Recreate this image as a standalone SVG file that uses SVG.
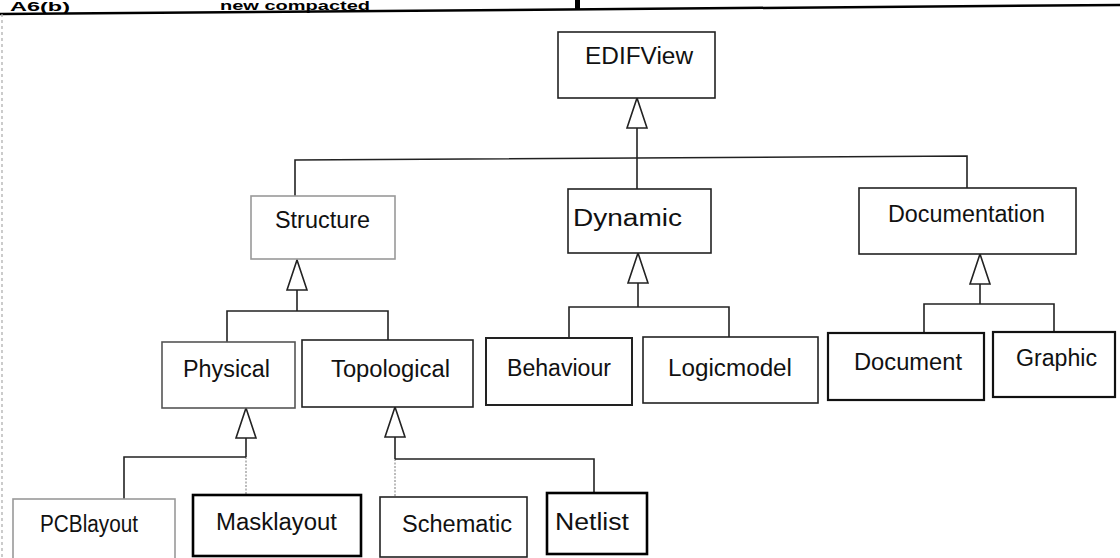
<svg xmlns="http://www.w3.org/2000/svg" width="1120" height="558" viewBox="0 0 1120 558">
<style>
.box{fill:#fff;stroke:#222;stroke-width:1.6}
.light{stroke:#999}
.mid{stroke:#555}
.heavy{stroke:#000;stroke-width:2.6}
.lbl{font-family:"Liberation Sans",Arial,sans-serif;font-size:23px;fill:#111}
.title{font-family:"Liberation Sans",Arial,sans-serif;font-size:13px;font-weight:bold;fill:#000}
.conn{fill:none;stroke:#222;stroke-width:1.6}
.faint{fill:none;stroke:#999;stroke-width:1.3;stroke-dasharray:2 1.5}
</style>
<defs>
<marker id="tri" markerUnits="userSpaceOnUse" markerWidth="32" markerHeight="22" viewBox="0 0 32 22" refX="31" refY="11" orient="auto">
<path d="M1,1 L31,11 L1,21 Z" fill="#fff" stroke="#222" stroke-width="1.6"/>
</marker>
</defs>
<g id="frame">
<text class="title" x="10" y="11" textLength="60" lengthAdjust="spacingAndGlyphs">A6(b)</text>
<text class="title" x="220" y="10" textLength="150" lengthAdjust="spacingAndGlyphs">new compacted</text>
<rect x="575" y="0" width="5" height="9" fill="#000"/>
<line x1="0" y1="14" x2="1120" y2="5" stroke="#000" stroke-width="2.5"/>
<line x1="2" y1="14" x2="2" y2="558" stroke="#aaa" stroke-width="1.2" stroke-dasharray="3 3"/>
</g>
<g id="connectors">
<path class="conn" d="M637,189 V98" marker-end="url(#tri)"/>
<path class="conn" d="M295,196 V160 L967,156 V188"/>
<path class="conn" d="M297,311 V260" marker-end="url(#tri)"/>
<path class="conn" d="M227,342 V311 H388 V340"/>
<path class="conn" d="M246,457 V408" marker-end="url(#tri)"/>
<path class="faint" d="M246,457 V495"/>
<path class="conn" d="M124,499 V457 H246"/>
<path class="conn" d="M395,459 V407" marker-end="url(#tri)"/>
<path class="faint" d="M395,459 V497"/>
<path class="conn" d="M395,459 H594 V493"/>
<path class="conn" d="M638,307 V253" marker-end="url(#tri)"/>
<path class="conn" d="M569,338 V307 H729 V337"/>
<path class="conn" d="M980,304 V254" marker-end="url(#tri)"/>
<path class="conn" d="M924,333 V304 H1054 V332"/>
</g>
<g id="EDIFView"><rect class="box" x="558" y="32" width="157" height="66"/><text class="lbl" x="585" y="64" textLength="108" lengthAdjust="spacingAndGlyphs">EDIFView</text></g>
<g id="Structure"><rect class="box light" x="251" y="196" width="144" height="63"/><text class="lbl" x="275" y="228" textLength="95" lengthAdjust="spacingAndGlyphs">Structure</text></g>
<g id="Dynamic"><rect class="box" x="568" y="189" width="143" height="64"/><text class="lbl" x="573" y="226" textLength="109" lengthAdjust="spacingAndGlyphs">Dynamic</text></g>
<g id="Documentation"><rect class="box" x="859" y="188" width="217" height="66"/><text class="lbl" x="888" y="222" textLength="157" lengthAdjust="spacingAndGlyphs">Documentation</text></g>
<g id="Physical"><rect class="box mid" x="162" y="342" width="133" height="66"/><text class="lbl" x="183" y="377" textLength="87" lengthAdjust="spacingAndGlyphs">Physical</text></g>
<g id="Topological"><rect class="box" x="302" y="340" width="171" height="67"/><text class="lbl" x="331" y="377" textLength="119" lengthAdjust="spacingAndGlyphs">Topological</text></g>
<g id="Behaviour"><rect class="box" x="486" y="338" width="146" height="67" style="stroke-width:2"/><text class="lbl" x="507" y="376" textLength="104" lengthAdjust="spacingAndGlyphs">Behaviour</text></g>
<g id="Logicmodel"><rect class="box" x="643" y="337" width="175" height="66"/><text class="lbl" x="668" y="376" textLength="124" lengthAdjust="spacingAndGlyphs">Logicmodel</text></g>
<g id="Document"><rect class="box" x="828" y="333" width="156" height="67" style="stroke-width:2.2;stroke:#111"/><text class="lbl" x="854" y="370" textLength="108" lengthAdjust="spacingAndGlyphs">Document</text></g>
<g id="Graphic"><rect class="box" x="993" y="332" width="122" height="65" style="stroke-width:2.2;stroke:#111"/><text class="lbl" x="1016" y="366" textLength="81" lengthAdjust="spacingAndGlyphs">Graphic</text></g>
<g id="PCBlayout"><rect class="box light" x="13" y="499" width="162" height="64"/><text class="lbl" x="40" y="532" textLength="98" lengthAdjust="spacingAndGlyphs">PCBlayout</text></g>
<g id="Masklayout"><rect class="box heavy" x="193" y="495" width="168" height="61"/><text class="lbl" x="216" y="530" textLength="121" lengthAdjust="spacingAndGlyphs">Masklayout</text></g>
<g id="Schematic"><rect class="box" x="380" y="497" width="147" height="60"/><text class="lbl" x="402" y="532" textLength="110" lengthAdjust="spacingAndGlyphs">Schematic</text></g>
<g id="Netlist"><rect class="box heavy" x="547" y="493" width="100" height="61"/><text class="lbl" x="555" y="530" textLength="74" lengthAdjust="spacingAndGlyphs">Netlist</text></g>
</svg>
